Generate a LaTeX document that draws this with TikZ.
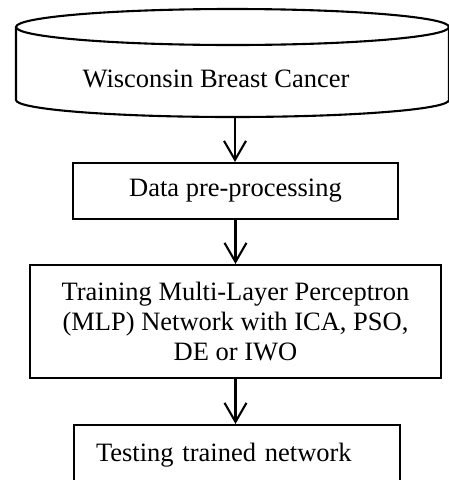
\documentclass[tikz,border=0pt]{standalone}
\usepackage{fontspec}
\setmainfont{Liberation Serif}
\usetikzlibrary{arrows.meta}
\begin{document}
\begin{tikzpicture}[x=1pt,y=-1pt,
  outline/.style={line width=2.1pt},
  stepbox/.style={draw,outline,rectangle,inner sep=0pt},
  flow/.style={outline,-{Straight Barb[length=19pt,width=22pt,line width=2.1pt]}},
  txt/.style={font=\fontsize{26.5}{30}\selectfont}]
\useasboundingbox (0,0) rectangle (449,480);
% cylinder
\draw[outline] (16,27) -- (16,100) arc[start angle=180,end angle=0,x radius=216.5,y radius=17] -- (449,27);
\draw[outline] (232.5,27) ellipse[x radius=216.5,y radius=18];
\node[txt,inner sep=0pt,anchor=base] (db) at (216,87) {Wisconsin Breast Cancer};
\coordinate (dbbot) at (235,117);
% boxes
\node[stepbox,txt,minimum width=325pt,minimum height=56pt] (data) at (235.5,191) {Data pre-processing};
\node[stepbox,txt,minimum width=411pt,minimum height=113pt,align=center] (train) at (235.5,321.5)
  {Training Multi-Layer Perceptron\\(MLP) Network with ICA, PSO,\\DE or IWO};
\node[stepbox,txt,minimum width=326pt,minimum height=60pt,text width=282pt,inner xsep=22pt,align=left] (test) at (237,455) {Testing trained network};
% connectors
\draw[flow] (dbbot) -- (dbbot |- data.north);
\draw[flow] (data.south) -- (data.south |- train.north);
\draw[flow] (train.south) -- (train.south |- test.north);
\end{tikzpicture}
\end{document}
